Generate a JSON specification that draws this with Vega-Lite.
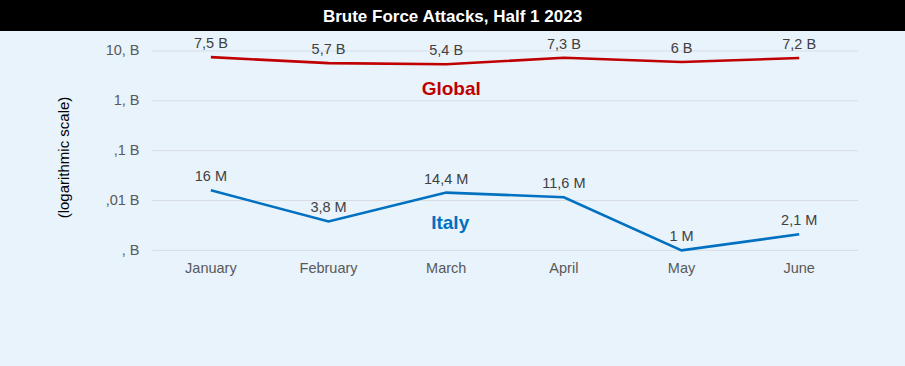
{
  "$schema": "https://vega.github.io/schema/vega-lite/v6.json",
  "width": 905,
  "height": 366,
  "autosize": {"type": "fit", "contains": "padding"},
  "padding": {"top": 8, "left": 0, "right": 0, "bottom": 0},
  "background": "black",
  "config": {
    "view": {"fill": "#e8f3fc", "stroke": null},
    "font": "Liberation Sans"
  },
  "title": {
    "text": "Brute Force Attacks, Half 1 2023",
    "color": "white",
    "fontSize": 17,
    "fontWeight": "bold",
    "anchor": "middle",
    "offset": 5,
    "font": "Liberation Sans"
  },
  "datasets": {
    "attacks": [
      {"series": "Global", "month": "January", "value": 7.5, "label": "7,5 B"},
      {"series": "Global", "month": "February", "value": 5.7, "label": "5,7 B"},
      {"series": "Global", "month": "March", "value": 5.4, "label": "5,4 B"},
      {"series": "Global", "month": "April", "value": 7.3, "label": "7,3 B"},
      {"series": "Global", "month": "May", "value": 6, "label": "6 B"},
      {"series": "Global", "month": "June", "value": 7.2, "label": "7,2 B"},
      {"series": "Italy", "month": "January", "value": 0.016, "label": "16 M"},
      {"series": "Italy", "month": "February", "value": 0.0038, "label": "3,8 M"},
      {"series": "Italy", "month": "March", "value": 0.0144, "label": "14,4 M"},
      {"series": "Italy", "month": "April", "value": 0.0116, "label": "11,6 M"},
      {"series": "Italy", "month": "May", "value": 0.001, "label": "1 M"},
      {"series": "Italy", "month": "June", "value": 0.0021, "label": "2,1 M"}
    ],
    "grid": [
      {"value": 0.001},
      {"value": 0.01},
      {"value": 0.1},
      {"value": 1},
      {"value": 10}
    ]
  },
  "encoding": {
    "x": {
      "field": "month",
      "type": "nominal",
      "scale": {
        "domain": ["January", "February", "March", "April", "May", "June"],
        "paddingInner": 0,
        "paddingOuter": 0.8456,
        "align": 0.764
      },
      "axis": {
        "title": null,
        "orient": "bottom",
        "offset": -116,
        "domain": false,
        "ticks": false,
        "grid": false,
        "labelPadding": 11,
        "labelFontSize": 14.5,
        "labelColor": "#595959",
        "labelAngle": 0
      }
    },
    "y": {
      "field": "value",
      "type": "quantitative",
      "scale": {"type": "log", "domain": [0.000004786, 25.12], "nice": false},
      "axis": {
        "title": "(logarithmic scale)",
        "values": [0.001, 0.01, 0.1, 1, 10],
        "labelExpr": "datum.value >= 5 ? '10, B' : datum.value >= 0.5 ? '1, B' : datum.value >= 0.05 ? ',1 B' : datum.value >= 0.005 ? ',01 B' : ', B'",
        "offset": -152,
        "domain": false,
        "ticks": false,
        "grid": false,
        "labelPadding": 13,
        "labelFontSize": 14.5,
        "labelColor": "#595959",
        "titleFontSize": 15,
        "titleFontWeight": "normal",
        "titleColor": "#000000",
        "titlePadding": 34,
        "titleY": 126
      }
    }
  },
  "layer": [
    {
      "data": {"name": "grid"},
      "mark": {"type": "rule", "color": "#d9dde2", "strokeWidth": 1},
      "encoding": {
        "x": {"datum": "January", "type": "nominal", "bandPosition": 0},
        "x2": {"datum": "June", "bandPosition": 1}
      }
    },
    {
      "data": {"name": "attacks"},
      "mark": {"type": "line", "strokeWidth": 2.6},
      "encoding": {
        "color": {
          "field": "series",
          "type": "nominal",
          "scale": {"domain": ["Global", "Italy"], "range": ["#c00000", "#0070c0"]},
          "legend": null
        }
      }
    },
    {
      "data": {"name": "attacks"},
      "mark": {"type": "text", "dy": -13, "fontSize": 14.5, "color": "#404040"},
      "encoding": {"text": {"field": "label"}}
    },
    {
      "data": {"name": "attacks"},
      "transform": [{"filter": "datum.series == 'Global' && datum.month == 'March'"}],
      "mark": {"type": "text", "dy": 25, "dx": 5, "fontSize": 19, "fontWeight": "bold", "color": "#c00000"},
      "encoding": {"text": {"field": "series"}}
    },
    {
      "data": {"name": "attacks"},
      "transform": [{"filter": "datum.series == 'Italy' && datum.month == 'March'"}],
      "mark": {"type": "text", "dy": 30, "dx": 4, "fontSize": 19, "fontWeight": "bold", "color": "#0070c0"},
      "encoding": {"text": {"field": "series"}}
    }
  ]
}
